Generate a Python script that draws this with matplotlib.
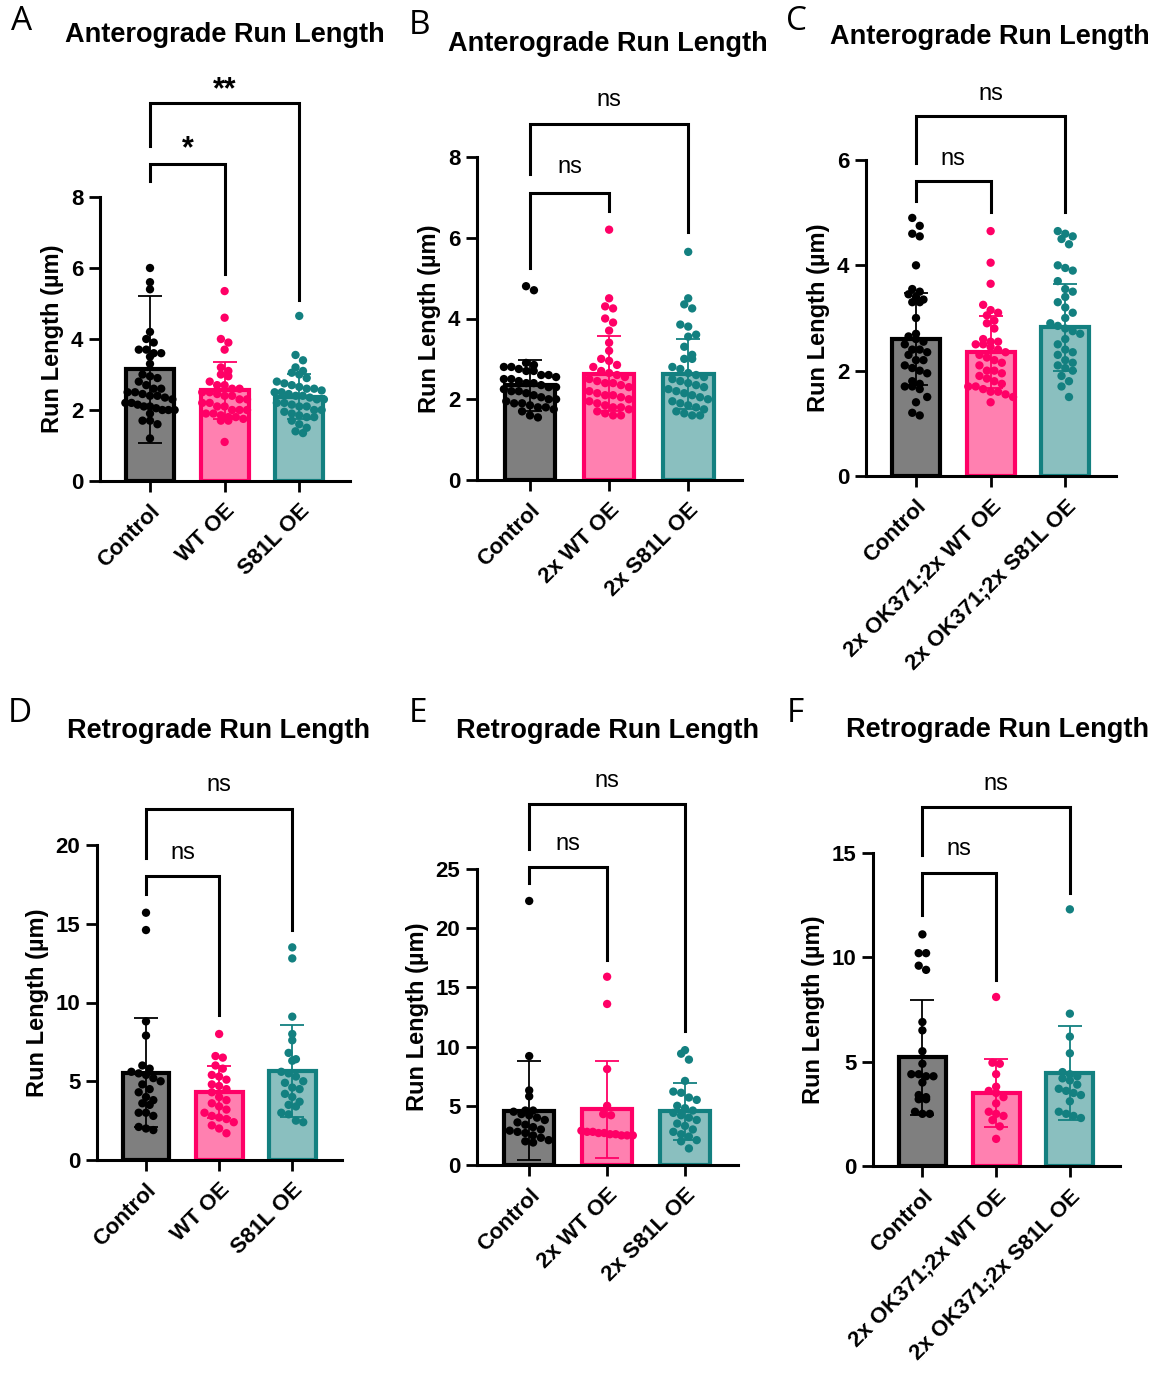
import numpy as np
import matplotlib.pyplot as plt

plt.rcParams['font.family'] = 'sans-serif'
plt.rcParams['font.sans-serif'] = ['Liberation Sans', 'DejaVu Sans']

# ---- data (run lengths, um) ----
labels_short = ['Control', 'WT OE', 'S81L OE']
labels_2x = ['Control', '2x WT OE', '2x S81L OE']
labels_ok = ['Control', '2x OK371;2x WT OE', '2x OK371;2x S81L OE']

a_control = [6.0, 5.6, 5.4, 4.2, 4.0, 3.9, 3.7, 3.7, 3.6, 3.6, 3.5, 3.3, 3.0, 2.95, 2.9, 2.8,
             2.7, 2.6, 2.6, 2.5, 2.5, 2.45, 2.4, 2.4, 2.35, 2.3, 2.2, 2.2, 2.15, 2.1, 2.1, 2.05,
             2.0, 2.0, 2.0, 1.9, 1.7, 1.7, 1.6, 1.2]
a_wt = [5.35, 4.6, 4.0, 3.9, 3.7, 3.2, 3.1, 3.0, 2.95, 2.8, 2.7, 2.7, 2.6, 2.6, 2.5, 2.5,
        2.45, 2.4, 2.4, 2.3, 2.3, 2.2, 2.2, 2.1, 2.1, 2.0, 2.0, 2.0, 1.9, 1.9, 1.85, 1.8,
        1.8, 1.75, 1.7, 1.7, 1.1]
a_s81l = [4.65, 3.55, 3.4, 3.2, 3.1, 3.05, 3.0, 2.9, 2.8, 2.75, 2.7, 2.65, 2.6, 2.6, 2.55,
          2.5, 2.5, 2.45, 2.4, 2.4, 2.35, 2.3, 2.3, 2.2, 2.2, 2.15, 2.1, 2.1, 2.0, 2.0, 1.95,
          1.9, 1.85, 1.8, 1.8, 1.7, 1.6, 1.5, 1.4, 1.35]
a_means = [3.15, 2.55, 2.38]
a_sd = [2.07, 0.80, 0.62]

b_control = [4.8, 4.7, 2.9, 2.85, 2.8, 2.8, 2.75, 2.7, 2.7, 2.6, 2.6, 2.55, 2.5, 2.5, 2.45,
             2.4, 2.4, 2.35, 2.3, 2.3, 2.25, 2.2, 2.2, 2.15, 2.1, 2.05, 2.0, 2.0, 1.95, 1.9,
             1.9, 1.85, 1.8, 1.8, 1.75, 1.7, 1.6, 1.55]
b_wt = [6.2, 4.5, 4.3, 4.25, 4.0, 3.9, 3.7, 3.4, 3.2, 3.0, 2.95, 2.85, 2.8, 2.7, 2.65, 2.6,
        2.55, 2.5, 2.45, 2.4, 2.4, 2.35, 2.3, 2.2, 2.15, 2.1, 2.1, 2.05, 2.0, 1.95, 1.9,
        1.85, 1.8, 1.8, 1.75, 1.7, 1.65, 1.6, 1.6]
b_s81l = [5.65, 4.5, 4.35, 4.25, 3.85, 3.8, 3.6, 3.55, 3.3, 3.1, 3.0, 3.0, 2.8, 2.75, 2.65,
          2.6, 2.55, 2.5, 2.45, 2.4, 2.35, 2.3, 2.25, 2.2, 2.15, 2.1, 2.05, 2.0, 1.95, 1.9,
          1.85, 1.8, 1.75, 1.7, 1.65, 1.6, 1.6]
b_means = [2.35, 2.63, 2.62]
b_sd = [0.63, 0.93, 0.86]

c_control = [4.9, 4.75, 4.6, 4.55, 4.0, 3.55, 3.5, 3.45, 3.4, 3.35, 3.3, 3.3, 3.0, 2.7, 2.65,
             2.6, 2.55, 2.5, 2.4, 2.4, 2.35, 2.3, 2.2, 2.2, 2.1, 2.05, 2.0, 1.95, 1.8, 1.75,
             1.7, 1.7, 1.65, 1.5, 1.4, 1.2, 1.15]
c_wt = [4.65, 4.05, 3.65, 3.25, 3.15, 3.1, 3.05, 2.95, 2.9, 2.8, 2.6, 2.55, 2.55, 2.5, 2.5,
        2.45, 2.4, 2.35, 2.3, 2.25, 2.2, 2.15, 2.1, 2.0, 2.0, 1.95, 1.9, 1.85, 1.8, 1.75,
        1.7, 1.7, 1.65, 1.6, 1.6, 1.55, 1.5, 1.4]
c_s81l = [4.65, 4.6, 4.55, 4.5, 4.4, 4.0, 3.95, 3.9, 3.7, 3.55, 3.5, 3.4, 3.3, 3.2, 3.1, 3.0,
          2.9, 2.85, 2.8, 2.75, 2.7, 2.6, 2.5, 2.4, 2.35, 2.3, 2.2, 2.15, 2.1, 2.05, 2.0,
          1.9, 1.8, 1.7, 1.5]
c_means = [2.60, 2.36, 2.82]
c_sd = [0.88, 0.68, 0.82]

d_control = [15.7, 14.6, 8.8, 7.9, 6.0, 5.8, 5.6, 5.5, 5.4, 5.2, 5.0, 4.8, 4.5, 4.3, 4.0,
             3.8, 3.6, 3.5, 3.0, 3.0, 2.8, 2.1, 2.0, 1.9]
d_wt = [8.0, 6.6, 6.5, 6.0, 5.8, 5.4, 5.3, 5.1, 4.8, 4.7, 4.5, 4.3, 4.0, 3.8, 3.6, 3.4, 3.2,
        3.0, 2.8, 2.7, 2.6, 2.4, 2.2, 2.0, 1.7]
d_s81l = [13.5, 12.8, 9.1, 8.0, 7.6, 6.8, 6.4, 6.3, 5.6, 5.5, 5.3, 5.0, 4.9, 4.6, 4.5, 4.2,
          4.0, 3.7, 3.5, 3.4, 3.0, 2.9, 2.5, 2.4]
d_means = [5.55, 4.30, 5.65]
d_sd = [3.45, 1.65, 2.90]

e_control = [22.3, 9.2, 6.3, 5.8, 4.6, 4.6, 4.5, 4.3, 4.2, 4.0, 3.8, 3.6, 3.4, 3.2, 3.0,
             2.9, 2.8, 2.7, 2.5, 2.3, 2.1, 2.0, 1.9]
e_wt = [15.9, 13.6, 8.1, 5.0, 4.3, 4.2, 2.9, 2.8, 2.8, 2.7, 2.7, 2.6, 2.6, 2.5, 2.5, 2.5]
e_s81l = [9.7, 9.4, 8.9, 7.1, 6.2, 6.1, 5.7, 5.5, 5.0, 4.8, 4.6, 4.4, 4.2, 4.0, 3.8, 3.5,
          3.3, 3.0, 2.8, 2.6, 2.4, 2.1, 2.0, 1.4]
e_means = [4.60, 4.70, 4.55]
e_sd = [4.20, 4.10, 2.40]

f_control = [11.1, 10.2, 10.2, 9.6, 9.4, 6.9, 6.5, 5.5, 4.9, 4.4, 4.4, 4.3, 4.3, 4.0, 3.4,
             3.3, 3.2, 3.2, 2.6, 2.5, 2.5]
f_wt = [8.1, 4.95, 4.9, 4.4, 3.8, 3.6, 3.5, 3.3, 3.0, 2.6, 2.5, 2.4, 2.2, 1.9, 1.3]
f_s81l = [12.3, 7.3, 6.2, 5.4, 4.5, 4.4, 4.3, 4.2, 4.1, 3.9, 3.7, 3.6, 3.5, 3.4, 3.1, 2.6,
          2.5, 2.4, 2.3]
f_means = [5.20, 3.50, 4.45]
f_sd = [2.75, 1.65, 2.25]

# significance brackets: (top, left leg end, right leg end, text y, text) per comparison
a_sig = [(8.93, 8.44, 5.84, 9.35, '*'), (10.65, 9.45, 5.11, 11.0, '**')]
b_sig = [(7.12, 5.24, 6.66, 7.75, 'ns'), (8.81, 7.59, 6.14, 9.4, 'ns')]
c_sig = [(5.61, 5.22, 5.01, 6.02, 'ns'), (6.83, 5.95, 5.01, 7.25, 'ns')]
d_sig = [(18.03, 16.9, 9.2, 19.5, 'ns'), (22.26, 19.2, 14.6, 23.8, 'ns')]
e_sig = [(25.2, 23.8, 17.35, 27.1, 'ns'), (30.5, 26.7, 11.3, 32.4, 'ns')]
f_sig = [(14.06, 12.03, 8.93, 15.2, 'ns'), (17.2, 14.9, 13.1, 18.3, 'ns')]

face_colors = ['#7f7f7f', '#ff80b0', '#8abfbf']
edge_colors = ['#000000', '#ff0066', '#138080']
dot_colors = ['#000000', '#ff0066', '#138080']

W, H = 1161, 1377
fig = plt.figure(figsize=(W / 100, H / 100), dpi=100)

# letter, title, groups, means, sd, brackets, tick labels, ymax, yticks,
# axes box (px: left, right, top, bottom), title centre px, letter centre px
panels = [
    ('A', 'Anterograde Run Length', [a_control, a_wt, a_s81l], a_means, a_sd, a_sig, labels_short,
     8, [0, 2, 4, 6, 8], (100, 350, 197, 481), (225, 35), (22, 22)),
    ('B', 'Anterograde Run Length', [b_control, b_wt, b_s81l], b_means, b_sd, b_sig, labels_2x,
     8, [0, 2, 4, 6, 8], (477, 742, 157, 480), (608, 44), (420, 25)),
    ('C', 'Anterograde Run Length', [c_control, c_wt, c_s81l], c_means, c_sd, c_sig, labels_ok,
     6, [0, 2, 4, 6], (866, 1116, 160, 476), (990, 37), (797, 22)),
    ('D', 'Retrograde Run Length', [d_control, d_wt, d_s81l], d_means, d_sd, d_sig, labels_short,
     20, [0, 5, 10, 15, 20], (97, 342, 845, 1160), (218, 731), (20, 713)),
    ('E', 'Retrograde Run Length', [e_control, e_wt, e_s81l], e_means, e_sd, e_sig, labels_2x,
     25, [0, 5, 10, 15, 20, 25], (477, 738, 869, 1165), (607, 731), (418, 713)),
    ('F', 'Retrograde Run Length', [f_control, f_wt, f_s81l], f_means, f_sd, f_sig, labels_ok,
     15, [0, 5, 10, 15], (873, 1120, 853, 1166), (997, 730), (795, 713)),
]


def swarm_x(vals, center, ybin, dx, maxwidth=0.66):
    # spread points sharing a value band side by side around the bar centre
    vals = np.asarray(vals)
    keys = np.round(vals / ybin).astype(int)
    xs = np.full(len(vals), float(center))
    for k in np.unique(keys):
        idx = np.where(keys == k)[0]
        n = len(idx)
        step = dx if n < 2 else min(dx, maxwidth / (n - 1))
        xs[idx] = center + (np.arange(n) - (n - 1) / 2) * step
    return xs


for letter, title, groups, means, sds, sig, labels, ymax, yticks, box, tpos, lpos in panels:
    x0, x1, y0, y1 = box
    ax = fig.add_axes([x0 / W, 1 - y1 / H, (x1 - x0) / W, (y1 - y0) / H])
    pos = np.arange(3)
    ax.bar(pos, means, width=0.64, color=face_colors, edgecolor=edge_colors,
           linewidth=3, zorder=2)
    for i, vals in enumerate(groups):
        xs = swarm_x(vals, pos[i], ymax / 30, 0.1)
        ax.scatter(xs, vals, s=36, color=dot_colors[i], edgecolors='none', zorder=3)
        ax.errorbar(pos[i], means[i], yerr=sds[i], fmt='none', ecolor=dot_colors[i],
                    elinewidth=1.3, capsize=8.5, capthick=1.3, zorder=4)

    # brackets comparing Control with each group
    for j, (top, lend, rend, ty, txt) in enumerate(sig):
        xr = pos[j + 1]
        ax.plot([0, 0, xr, xr], [lend, top, top, rend], color='black', lw=2.2,
                clip_on=False, solid_joinstyle='miter', zorder=5)
        if txt == 'ns':
            ax.text(xr / 2, ty, txt, ha='center', va='center', fontsize=17, clip_on=False)
        else:
            ax.text(xr / 2, ty, txt, ha='center', va='center', fontsize=22,
                    fontweight='bold', clip_on=False)

    ax.set_xlim(-0.67, 2.68)
    ax.set_ylim(0, ymax)
    ax.set_yticks(yticks)
    ax.set_xticks(pos)
    ax.set_xticklabels(labels, rotation=45, ha='right', rotation_mode='anchor',
                       fontsize=16, fontweight='bold')
    for t in ax.get_yticklabels():
        t.set_fontsize(16)
        t.set_fontweight('bold')
    ax.tick_params(axis='both', width=2, length=8, direction='out')
    ax.tick_params(axis='x', pad=6)
    ax.tick_params(axis='y', pad=4)
    ax.spines[['top', 'right']].set_visible(False)
    ax.spines['left'].set_linewidth(2.2)
    ax.spines['bottom'].set_linewidth(2.2)
    ax.set_ylabel('Run Length (µm)', fontsize=17, fontweight='bold', labelpad=5)

    fig.text(tpos[0] / W, 1 - tpos[1] / H, title, ha='center', va='center',
             fontsize=19.5, fontweight='bold')
    fig.text(lpos[0] / W, 1 - lpos[1] / H, letter, ha='center', va='center',
             fontsize=24, family='Open Sans')

fig.savefig('out.png', dpi=100, facecolor='white')
